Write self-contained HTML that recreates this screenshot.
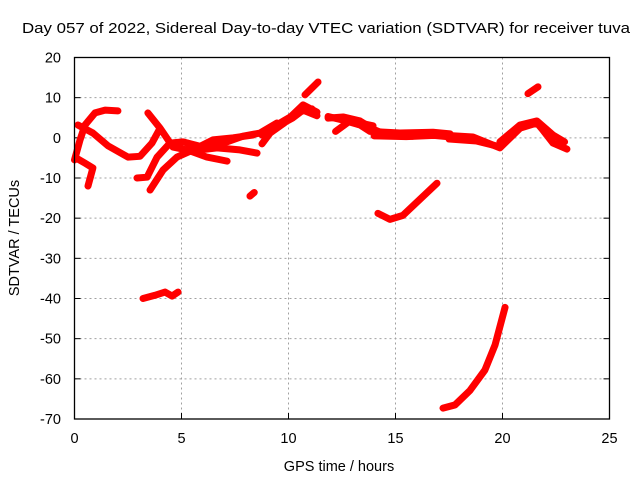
<!DOCTYPE html>
<html><head><meta charset="utf-8"><style>
body{margin:0;background:#fff}
svg{display:block;font-family:"Liberation Sans",sans-serif}
</style></head><body>
<svg id="chart" width="640" height="480">
<text x="326" y="33" font-size="15" text-anchor="middle" textLength="608" lengthAdjust="spacingAndGlyphs">Day 057 of 2022, Sidereal Day-to-day VTEC variation (SDTVAR) for receiver tuva</text>
<text x="339" y="471" font-size="14.5" text-anchor="middle">GPS time / hours</text>
<text transform="translate(19,238) rotate(-90)" font-size="14.5" text-anchor="middle">SDTVAR / TECUs</text>
<g id="grid"></g><g id="ticks"></g><g id="series"></g>
<rect x="74.5" y="57.5" width="535" height="361.5" fill="none" stroke="#000" stroke-width="1.3"/>
</svg>
<script>
const xTicks=[0,5,10,15,20,25];
const yTicks=[20,10,0,-10,-20,-30,-40,-50,-60,-70];
const track1=[[0,-5.5],[0.26,-0.5],[0.49,3.2],[0.96,6.2],[1.43,6.9],[2.03,6.7]];
const track2=[[0.16,3.2],[0.86,1.2],[1.57,-2.0],[2.5,-4.8],[3.06,-4.6],[3.62,-1.3],[4.0,2.4],[3.43,6.2],[4.0,2.4],[4.6,-2.3],[5.26,-3.0],[6.19,-4.8],[7.13,-5.8]];
const track3=[[0.07,-5.0],[0.49,-6.3],[0.86,-7.5],[0.63,-12.0]];
const track4=[[2.92,-10.0],[3.39,-9.8],[3.86,-4.8],[4.46,-1.3],[5.07,-1.0],[6.0,-2.3],[7.13,-1.0],[7.87,0.4],[8.67,1.2],[9.46,3.7]];
const track5=[[3.53,-13.0],[4.14,-8.0],[4.79,-4.8],[5.54,-3.0],[6.47,-0.5],[7.41,0.0],[8.34,0.7]];
const track6=[[5.26,-1.3],[5.86,-3.0],[6.66,-2.5],[7.73,-3.0],[8.53,-3.8]];
const track7=[[8.2,-14.5],[8.4,-13.6]];
const track8=[[8.76,-1.5],[9.14,1.2],[9.8,3.7],[10.21,5.8],[10.68,8.2],[11.33,6.4]];
const track8b=[[8.76,0.7],[9.46,2.8],[10.21,5.0],[10.68,6.9],[11.33,5.5]];
const track8c=[[9.0,1.8],[9.8,4.3],[10.5,6.5],[11.1,7.2]];
const track9=[[10.77,10.7],[11.38,13.9]];
const track10=[[11.85,5.3],[12.55,4.4],[13.34,3.2],[13.81,1.6],[15.21,1.2],[16.75,1.4],[17.55,1.0]];
const track10b=[[11.85,4.9],[12.55,5.2],[13.34,4.2],[13.95,2.2],[14.6,0.6],[15.8,0.4]];
const track10c=[[12.2,1.6],[12.87,4.2],[13.95,3.0]];
const track10d=[[14.0,0.5],[15.5,0.3],[16.8,0.6],[17.6,0.2]];
const track11=[[17.08,0.7],[18.62,0.2],[19.88,-2.5],[20.82,2.4],[21.61,3.7],[21.89,1.9],[22.36,-1.3],[23.01,-2.8]];
const track11b=[[19.88,-1.0],[20.82,3.2],[21.61,4.2],[22.36,0.7],[22.9,-1.0]];
const track11c=[[17.5,-0.3],[18.8,-0.8],[19.7,-2.0]];
const track12=[[21.19,11.0],[21.66,12.7]];
const track13=[[14.18,-18.8],[14.74,-20.3],[15.35,-19.3],[16.94,-11.3]];
const track14=[[3.2,-40.0],[3.76,-39.2],[4.23,-38.4],[4.56,-39.4],[4.84,-38.4]];
const track15=[[17.22,-67.3],[17.78,-66.5],[18.48,-62.9],[19.18,-57.8],[19.65,-51.6],[20.12,-42.2]];
const allTracks=[track1,track2,track3,track4,track5,track6,track7,track8,track8b,track8c,track9,track10,track10b,track10c,track10d,track11,track11b,track11c,track12,track13,track14,track15];

const X0=74.5,X1=609.5,Y0=419,Y1=57.5;
const xs=h=>X0+(h-0)/25*(X1-X0);
const ys=v=>Y0-(v+70)/90*(Y0-Y1);
const NS='http://www.w3.org/2000/svg';
const grid=document.getElementById('grid'),ticks=document.getElementById('ticks'),ser=document.getElementById('series');
function mk(tag,attrs,parent){const e=document.createElementNS(NS,tag);for(const k in attrs)e.setAttribute(k,attrs[k]);parent.appendChild(e);return e;}
xTicks.forEach(t=>{
  const x=xs(t);
  if(t>0&&t<25){const g=mk('line',{x1:x,x2:x,y1:Y1,y2:Y0,stroke:'#a0a0a0','stroke-dasharray':'2,3'},grid);
  
  }
  const l=mk('line',{x1:x,x2:x,y1:Y0,y2:Y0-6,stroke:'#000'},ticks);
  
  
  const tx=mk('text',{x:x,y:443,'font-size':'14.5','text-anchor':'middle'},ticks);tx.textContent=t;
  
  
});
yTicks.forEach(t=>{
  const y=ys(t);
  if(t<20&&t>-70){const g=mk('line',{x1:X0,x2:X1,y1:y,y2:y,stroke:'#a0a0a0','stroke-dasharray':'2,3'},grid);
  
  }
  const l=mk('line',{x1:X0,x2:X0+6,y1:y,y2:y,stroke:'#000'},ticks);
  
  
  const r=mk('line',{x1:X1,x2:X1-6,y1:y,y2:y,stroke:'#000'},ticks);
  
  
  const tx=mk('text',{x:61,y:y+5,'font-size':'14.5','text-anchor':'end'},ticks);tx.textContent=t;
  
  
});
allTracks.forEach(tr=>{
  const p=mk('polyline',{points:tr.map(d=>xs(d[0])+','+ys(d[1])).join(' '),fill:'none',stroke:'#ff0000','stroke-width':7,'stroke-linejoin':'round','stroke-linecap':'round'},ser);
  
  
});
</script>
</body></html>
